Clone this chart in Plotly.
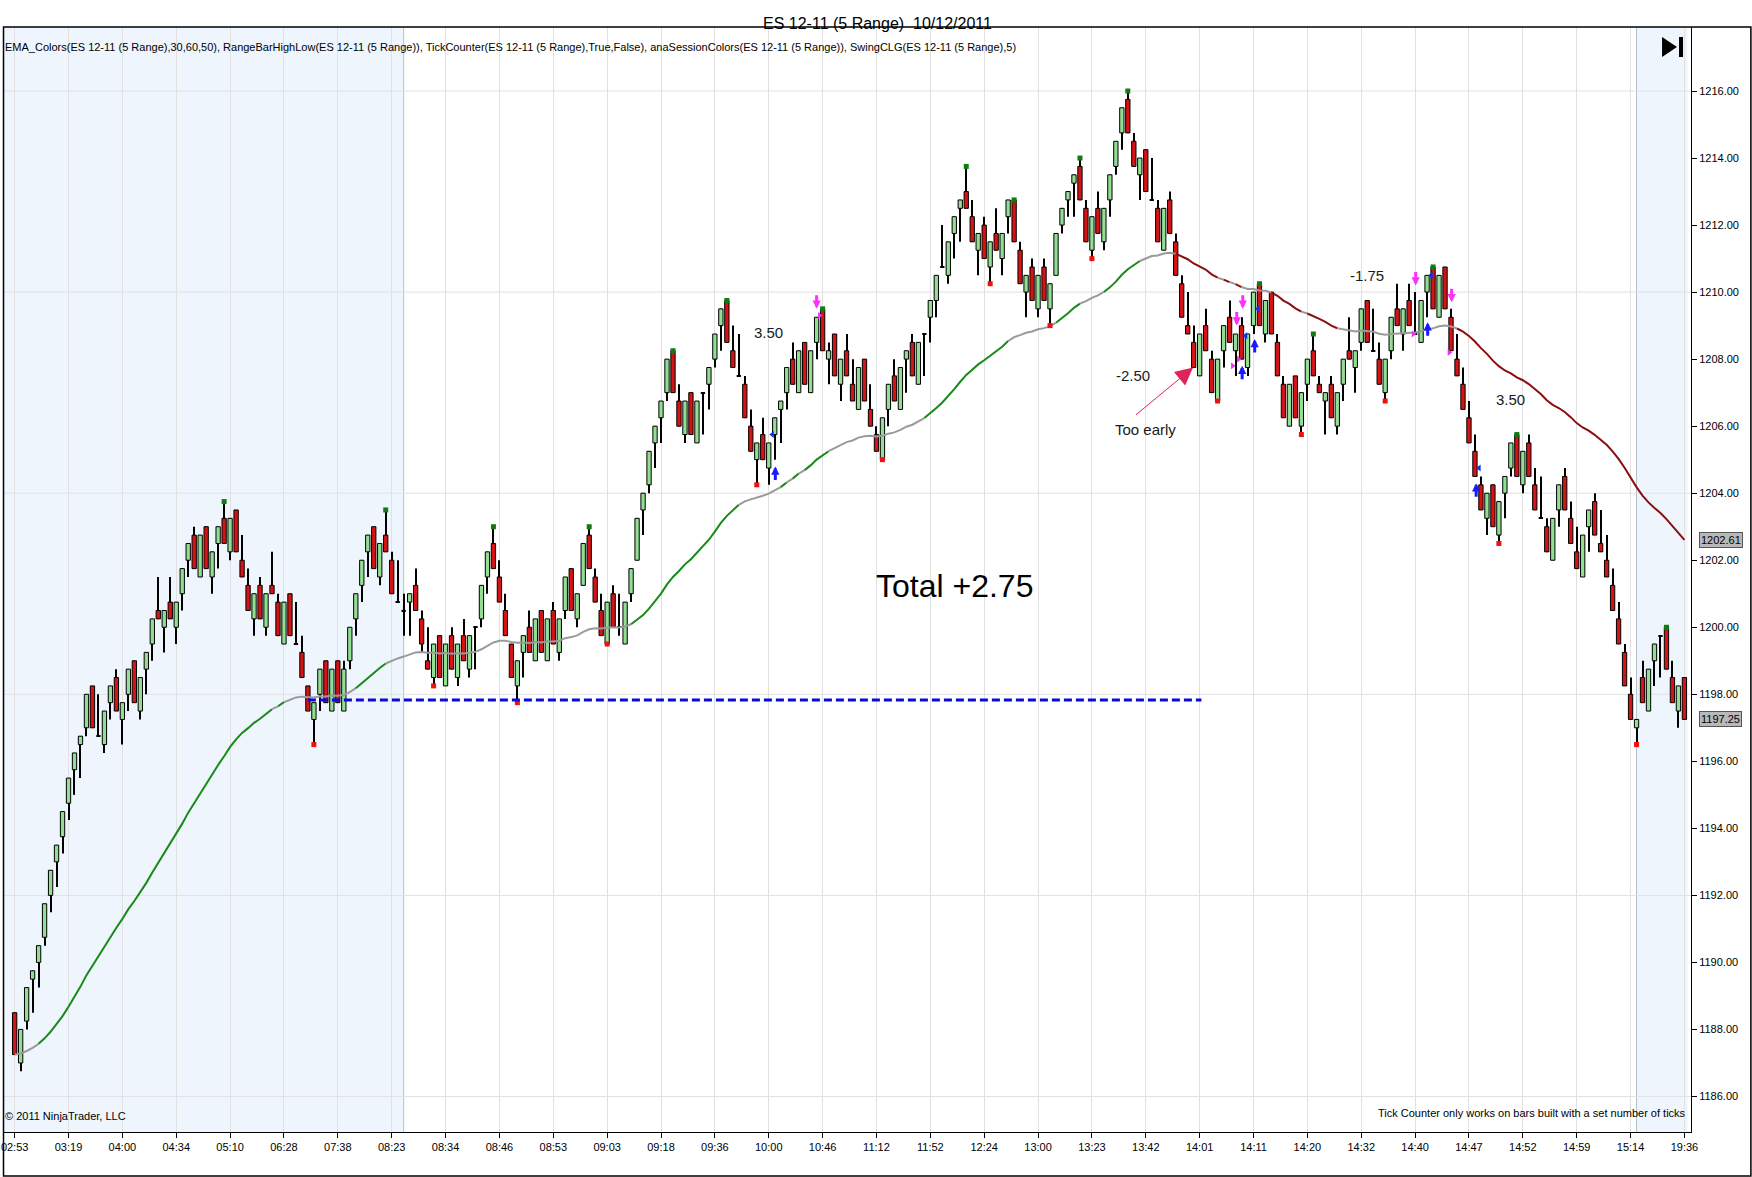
import pandas as pd
import plotly.graph_objects as go

# ---------------- data ----------------
time_labels = ["02:53", "03:19", "04:00", "04:34", "05:10", "06:28", "07:38", "08:23",
               "08:34", "08:46", "08:53", "09:03", "09:18", "09:36", "10:00", "10:46",
               "11:12", "11:52", "12:24", "13:00", "13:23", "13:42", "14:01", "14:11",
               "14:20", "14:32", "14:40", "14:47", "14:52", "14:59", "15:14", "19:36"]

open_ = [
    1188.5, 1187.0, 1188.25, 1189.5, 1190.0, 1190.75, 1192.0, 1193.0, 1193.75, 1194.75,
    1195.75, 1196.5, 1197.0, 1198.25, 1196.75, 1196.5, 1197.75, 1198.5, 1197.25, 1198.0,
    1199.0, 1197.5, 1198.75, 1199.5, 1200.5, 1200.0, 1200.75, 1200.0, 1201.0, 1202.0,
    1202.75, 1201.5, 1203.0, 1201.5, 1202.5, 1203.25, 1202.25, 1203.5, 1202.0, 1201.25,
    1200.25, 1201.25, 1200.0, 1201.25, 1200.75, 1199.5, 1201.0, 1199.5, 1199.25, 1198.25,
    1197.25, 1198.0, 1199.0, 1197.5, 1199.0, 1197.5, 1199.0, 1200.25, 1201.25, 1202.25,
    1203.0, 1201.5, 1202.75, 1202.0, 1200.75, 1200.5, 1200.75, 1201.25, 1200.25, 1199.0,
    1198.5, 1199.75, 1198.25, 1199.75, 1198.5, 1199.75, 1198.75, 1200.0, 1200.25, 1201.5,
    1202.5, 1201.5, 1200.5, 1199.5, 1198.25, 1199.25, 1200.0, 1199.0, 1200.5, 1199.0,
    1200.5, 1199.25, 1200.5, 1201.75, 1200.25, 1201.25, 1202.75, 1201.5, 1200.5, 1199.5,
    1201.0, 1200.0, 1199.5, 1201.0, 1202.0, 1203.5, 1204.25, 1205.5, 1206.25, 1207.0,
    1208.25, 1206.75, 1205.75, 1207.0, 1205.5, 1207.0, 1207.25, 1208.0, 1209.0, 1209.75,
    1208.25, 1207.5, 1207.25, 1206.0, 1205.0, 1205.75, 1204.75, 1205.75, 1206.5, 1207.0,
    1208.0, 1207.0, 1208.5, 1207.0, 1208.5, 1209.5, 1208.0, 1208.75, 1207.25, 1208.25,
    1207.25, 1206.5, 1208.0, 1206.5, 1205.75, 1205.0, 1206.5, 1207.5, 1206.5, 1208.0,
    1208.5, 1207.25, 1208.75, 1209.25, 1209.75, 1210.75, 1210.5, 1211.75, 1212.5, 1213.0,
    1212.25, 1211.25, 1212.0, 1210.75, 1211.75, 1211.0, 1212.25, 1212.75, 1211.25, 1210.0,
    1210.75, 1209.5, 1210.75, 1209.5, 1210.5, 1212.0, 1212.75, 1213.25, 1213.75, 1212.5,
    1211.25, 1212.5, 1211.5, 1212.75, 1213.75, 1214.75, 1215.75, 1214.5, 1213.5, 1214.25,
    1212.75, 1212.5, 1211.25, 1212.75, 1211.5, 1210.25, 1209.0, 1208.5, 1207.5, 1209.0,
    1208.0, 1206.75, 1208.25, 1209.25, 1208.25, 1209.0, 1207.75, 1209.0, 1210.25, 1208.75,
    1210.0, 1208.5, 1207.25, 1206.0, 1207.5, 1206.0, 1207.25, 1208.25, 1207.25, 1206.75,
    1207.25, 1206.0, 1207.25, 1208.25, 1207.75, 1208.5, 1209.75, 1208.25, 1208.0, 1207.0,
    1208.25, 1209.5, 1208.75, 1209.75, 1208.75, 1208.5, 1210.0, 1210.75, 1209.25, 1210.75,
    1209.25, 1208.0, 1207.25, 1206.25, 1205.25, 1204.25, 1203.25, 1204.25, 1202.75, 1204.0,
    1204.75, 1205.75, 1204.25, 1205.5, 1204.25, 1203.25, 1203.0, 1202.0, 1203.5, 1204.5,
    1203.25, 1202.25, 1201.5, 1203.0, 1203.75, 1202.5, 1202.0, 1201.25, 1200.25, 1199.25,
    1198.0, 1197.0, 1198.5, 1197.5, 1199.0, 1199.75, 1200.0, 1198.5, 1197.5, 1198.5,
]

high = [
    1188.5, 1188.0, 1189.25, 1189.75, 1190.5, 1191.75, 1192.75, 1193.5, 1194.5, 1195.5,
    1196.25, 1196.75, 1198.0, 1198.25, 1198.0, 1197.5, 1198.25, 1198.75, 1197.75, 1198.75,
    1199.0, 1198.5, 1199.25, 1200.25, 1201.5, 1200.5, 1201.5, 1200.75, 1201.75, 1202.5,
    1203.0, 1202.75, 1203.0, 1202.25, 1203.0, 1203.75, 1203.25, 1203.5, 1202.75, 1201.75,
    1201.0, 1201.5, 1201.0, 1202.25, 1201.0, 1200.75, 1201.0, 1200.75, 1199.75, 1198.25,
    1197.75, 1198.75, 1199.0, 1198.75, 1199.0, 1199.0, 1200.0, 1201.0, 1202.0, 1202.75,
    1203.0, 1202.5, 1203.5, 1202.25, 1202.0, 1201.0, 1201.0, 1201.75, 1200.5, 1200.0,
    1199.5, 1199.75, 1199.5, 1200.0, 1199.5, 1200.25, 1199.75, 1200.0, 1201.25, 1202.25,
    1203.0, 1202.0, 1201.0, 1199.5, 1199.0, 1199.75, 1200.5, 1200.25, 1200.5, 1200.25,
    1200.75, 1200.25, 1201.5, 1201.75, 1201.0, 1202.5, 1203.0, 1201.75, 1201.0, 1200.75,
    1201.25, 1201.0, 1200.75, 1201.75, 1203.25, 1204.0, 1205.25, 1206.0, 1206.75, 1208.0,
    1208.25, 1207.25, 1206.75, 1207.0, 1206.75, 1207.0, 1207.75, 1208.75, 1209.5, 1209.75,
    1209.0, 1208.75, 1207.5, 1206.5, 1205.5, 1206.25, 1205.5, 1206.25, 1206.75, 1207.75,
    1208.5, 1208.25, 1208.5, 1208.25, 1209.25, 1209.5, 1208.5, 1208.75, 1208.0, 1208.75,
    1208.0, 1207.75, 1208.0, 1207.25, 1206.0, 1206.25, 1207.25, 1208.0, 1207.75, 1208.25,
    1208.75, 1208.5, 1208.75, 1209.75, 1210.5, 1212.0, 1211.5, 1212.25, 1212.75, 1213.75,
    1212.75, 1211.75, 1212.25, 1211.5, 1212.5, 1211.75, 1212.75, 1212.75, 1211.5, 1210.5,
    1211.0, 1210.5, 1211.0, 1210.25, 1211.75, 1212.5, 1213.0, 1213.5, 1214.0, 1212.75,
    1212.25, 1213.0, 1212.5, 1213.5, 1214.5, 1215.5, 1216.0, 1214.75, 1214.0, 1214.25,
    1214.0, 1212.75, 1212.5, 1213.0, 1211.75, 1210.5, 1210.0, 1209.0, 1208.75, 1209.5,
    1208.25, 1208.0, 1209.0, 1209.75, 1208.75, 1209.25, 1208.75, 1210.0, 1210.25, 1209.75,
    1210.0, 1208.75, 1207.5, 1207.25, 1207.5, 1207.0, 1208.0, 1208.75, 1207.5, 1207.0,
    1207.5, 1207.0, 1208.0, 1209.25, 1208.25, 1209.5, 1209.75, 1209.5, 1208.5, 1208.0,
    1209.25, 1210.25, 1209.5, 1210.25, 1210.0, 1209.75, 1210.5, 1210.75, 1210.5, 1210.75,
    1209.5, 1208.75, 1207.75, 1206.75, 1205.75, 1204.5, 1204.0, 1204.25, 1203.75, 1204.5,
    1205.5, 1205.75, 1205.25, 1205.75, 1204.75, 1204.5, 1203.25, 1203.25, 1204.25, 1204.75,
    1203.75, 1203.0, 1202.75, 1203.5, 1204.0, 1203.5, 1202.75, 1201.75, 1200.75, 1199.5,
    1198.5, 1197.25, 1199.0, 1198.75, 1199.5, 1199.75, 1200.0, 1199.0, 1198.25, 1198.5,
]

low = [
    1187.25, 1186.75, 1188.0, 1188.5, 1189.25, 1190.5, 1191.5, 1192.25, 1193.25, 1194.25,
    1195.0, 1195.5, 1196.75, 1197.0, 1196.75, 1196.25, 1197.25, 1197.5, 1196.5, 1197.5,
    1197.75, 1197.25, 1198.0, 1199.0, 1200.25, 1199.25, 1200.25, 1199.5, 1200.5, 1201.5,
    1201.75, 1201.5, 1201.75, 1201.0, 1201.75, 1202.5, 1202.0, 1202.25, 1201.5, 1200.5,
    1199.75, 1200.25, 1199.75, 1201.0, 1199.75, 1199.5, 1199.75, 1199.5, 1198.5, 1197.5,
    1196.5, 1197.5, 1197.75, 1197.5, 1197.75, 1197.5, 1198.75, 1199.75, 1200.75, 1201.5,
    1201.75, 1201.25, 1202.25, 1201.0, 1200.75, 1199.75, 1199.75, 1200.5, 1199.25, 1198.75,
    1198.25, 1198.5, 1198.25, 1198.75, 1198.25, 1199.0, 1198.5, 1198.75, 1200.0, 1201.0,
    1201.75, 1200.75, 1199.75, 1198.5, 1197.75, 1198.5, 1199.25, 1199.0, 1199.25, 1199.0,
    1199.5, 1199.0, 1200.25, 1200.5, 1200.0, 1201.25, 1201.75, 1200.75, 1199.75, 1199.5,
    1200.0, 1199.75, 1199.5, 1200.75, 1202.0, 1202.75, 1204.0, 1204.75, 1205.5, 1206.75,
    1207.0, 1206.0, 1205.5, 1205.75, 1205.5, 1205.75, 1206.5, 1207.75, 1208.25, 1208.5,
    1207.75, 1207.5, 1206.25, 1205.25, 1204.25, 1205.0, 1204.25, 1205.0, 1205.5, 1206.5,
    1207.25, 1207.0, 1207.25, 1207.0, 1208.0, 1208.25, 1207.25, 1207.5, 1206.75, 1207.5,
    1206.75, 1206.5, 1206.75, 1206.0, 1205.25, 1205.0, 1206.0, 1206.75, 1206.5, 1207.0,
    1207.5, 1207.25, 1207.5, 1208.5, 1209.25, 1210.75, 1210.25, 1211.0, 1211.5, 1212.5,
    1211.5, 1210.5, 1211.0, 1210.25, 1211.25, 1210.5, 1211.75, 1211.5, 1210.25, 1209.25,
    1209.75, 1209.25, 1209.75, 1209.0, 1210.5, 1211.75, 1212.25, 1212.25, 1212.75, 1211.5,
    1211.0, 1211.75, 1211.25, 1212.25, 1213.5, 1214.25, 1214.75, 1213.75, 1212.75, 1213.0,
    1212.75, 1211.5, 1211.25, 1211.75, 1210.5, 1209.25, 1208.75, 1207.75, 1207.5, 1208.25,
    1207.0, 1206.75, 1207.75, 1208.5, 1207.5, 1208.0, 1207.5, 1208.75, 1209.0, 1208.5,
    1208.75, 1207.5, 1206.25, 1206.0, 1206.25, 1205.75, 1206.75, 1207.5, 1207.0, 1205.75,
    1206.25, 1205.75, 1206.75, 1208.0, 1207.0, 1208.25, 1208.5, 1208.25, 1207.25, 1206.75,
    1208.0, 1209.0, 1208.25, 1209.0, 1208.75, 1208.5, 1209.25, 1209.5, 1209.25, 1209.5,
    1208.25, 1207.5, 1206.5, 1205.5, 1204.5, 1203.5, 1202.75, 1203.0, 1202.5, 1203.25,
    1204.5, 1204.5, 1204.0, 1204.5, 1203.5, 1203.25, 1202.25, 1202.0, 1203.0, 1203.5,
    1202.5, 1201.75, 1201.5, 1202.25, 1202.75, 1202.25, 1201.5, 1200.5, 1199.5, 1198.25,
    1197.25, 1196.5, 1197.75, 1197.5, 1198.25, 1198.5, 1198.75, 1197.75, 1197.0, 1197.25,
]

close = [
    1187.25, 1188.0, 1189.25, 1189.75, 1190.5, 1191.75, 1192.75, 1193.5, 1194.5, 1195.5,
    1196.25, 1196.75, 1198.0, 1197.0, 1196.75, 1197.5, 1198.25, 1197.5, 1197.75, 1198.75,
    1197.75, 1198.5, 1199.25, 1200.25, 1200.25, 1200.5, 1200.25, 1200.75, 1201.75, 1202.5,
    1201.75, 1202.75, 1201.75, 1202.25, 1203.0, 1202.5, 1203.25, 1202.25, 1201.5, 1200.5,
    1201.0, 1200.25, 1201.0, 1201.0, 1199.75, 1200.75, 1199.75, 1199.5, 1198.5, 1197.5,
    1197.75, 1198.75, 1197.75, 1198.75, 1197.75, 1198.75, 1200.0, 1201.0, 1202.0, 1202.75,
    1201.75, 1202.5, 1202.25, 1201.0, 1200.75, 1200.5, 1201.0, 1200.5, 1199.5, 1198.75,
    1199.5, 1198.5, 1199.5, 1198.75, 1199.5, 1199.0, 1199.75, 1200.0, 1201.25, 1202.25,
    1201.75, 1200.75, 1199.75, 1198.5, 1199.0, 1199.75, 1199.25, 1200.25, 1199.25, 1200.25,
    1199.5, 1200.25, 1201.5, 1200.5, 1201.0, 1202.5, 1201.75, 1200.75, 1199.75, 1200.75,
    1200.0, 1200.0, 1200.75, 1201.75, 1203.25, 1204.0, 1205.25, 1206.0, 1206.75, 1208.0,
    1207.0, 1206.0, 1206.75, 1205.75, 1206.75, 1207.0, 1207.75, 1208.75, 1209.5, 1208.5,
    1207.75, 1207.5, 1206.25, 1205.25, 1205.5, 1205.0, 1205.5, 1206.25, 1206.75, 1207.75,
    1207.25, 1208.25, 1207.25, 1208.25, 1209.25, 1208.25, 1208.25, 1207.5, 1208.0, 1207.5,
    1206.75, 1207.75, 1206.75, 1206.0, 1205.25, 1206.25, 1207.25, 1206.75, 1207.75, 1208.25,
    1207.5, 1208.5, 1208.75, 1209.75, 1210.5, 1210.75, 1211.5, 1212.25, 1212.75, 1212.5,
    1211.5, 1211.75, 1211.0, 1211.5, 1211.25, 1211.75, 1212.75, 1211.5, 1210.25, 1210.5,
    1209.75, 1210.5, 1209.75, 1210.25, 1211.75, 1212.5, 1213.0, 1213.5, 1212.75, 1211.5,
    1212.25, 1211.75, 1212.5, 1213.5, 1214.5, 1215.5, 1214.75, 1213.75, 1214.0, 1213.0,
    1212.75, 1211.5, 1212.5, 1211.75, 1210.5, 1209.25, 1208.75, 1207.75, 1208.75, 1208.25,
    1207.0, 1208.0, 1209.0, 1208.5, 1208.75, 1208.0, 1208.75, 1210.0, 1209.0, 1209.75,
    1208.75, 1207.5, 1206.25, 1207.25, 1206.25, 1207.0, 1208.0, 1207.5, 1207.0, 1207.0,
    1206.25, 1207.0, 1208.0, 1208.0, 1208.25, 1209.5, 1208.5, 1208.25, 1207.25, 1208.0,
    1209.25, 1209.0, 1209.5, 1209.0, 1208.75, 1209.75, 1210.5, 1209.5, 1210.5, 1209.5,
    1208.25, 1207.5, 1206.5, 1205.5, 1204.5, 1203.5, 1204.0, 1203.0, 1203.75, 1204.5,
    1205.5, 1204.5, 1205.25, 1204.5, 1203.5, 1203.25, 1202.25, 1203.25, 1204.25, 1203.5,
    1202.5, 1201.75, 1202.75, 1203.5, 1202.75, 1202.25, 1201.5, 1200.5, 1199.5, 1198.25,
    1197.25, 1197.25, 1197.75, 1198.75, 1199.5, 1199.75, 1198.75, 1197.75, 1198.25, 1197.25,
]

swing_high_bars = [35, 62, 80, 96, 110, 119, 135, 159, 167, 178, 186, 208, 217, 237, 251, 276]
swing_low_bars = [50, 70, 84, 99, 124, 145, 163, 173, 180, 201, 215, 229, 248, 271]

entry_x = [127.1, 205.1, 207.2, 236.1, 244.2]
entry_y = [1204.8, 1207.8, 1208.6, 1209.1, 1204.3]
exit_x = [134.0, 204.2, 205.2, 234.1, 240.1]
exit_y = [1209.5, 1209.0, 1209.5, 1210.2, 1209.7]
entry_mark_x = [126.6, 205.7, 207.7, 236.7, 244.7]
entry_mark_y = [1205.75, 1208.7, 1209.5, 1210.5, 1204.75]
exit_mark_x = [134.5, 203.5, 204.5, 233.7, 239.7]
exit_mark_y = [1209.3, 1207.8, 1208.0, 1208.75, 1208.2]

trade_texts = ["3.50", "-2.50", "-1.75", "3.50"]
trade_x = [125.9, 186.9, 226.0, 249.9]
trade_y = [1208.8, 1207.5, 1210.5, 1206.8]

stop_level = 1197.83
ema_period = 50
y_ticks = [1186, 1188, 1190, 1192, 1194, 1196, 1198, 1200, 1202, 1204, 1206, 1208,
           1210, 1212, 1214, 1216]

assert len(open_) == len(high) == len(low) == len(close) == 280

# ---------------- figure ----------------
W, H = 1752, 1177
ML, MR, MT, MB = 1, 61, 27, 45
PW, PH = W - ML - MR, H - MT - MB


def px_x(p):
    return (p - ML) / PW


def px_y(p):
    return (H - MB - p) / PH


FONT = "Arial, 'Liberation Sans', sans-serif"
UP_FILL = "#92DE92"
DN_FILL = "#D41414"
EMA_UP, EMA_DN, EMA_FLAT = "#178A17", "#8B0E0E", "#9A9A9A"

n = len(close)
bars = list(range(n))
ema = pd.Series(close).ewm(span=ema_period, adjust=False).mean().tolist()

fig = go.Figure()

# wicks (thin bars) and bodies
fig.add_trace(go.Bar(x=bars, y=[h - l for h, l in zip(high, low)], base=low, width=0.17,
                     marker=dict(color="#000000", line=dict(width=0)),
                     hoverinfo="skip", showlegend=False))
body_x, body_b, body_h, body_c = [], [], [], []
doji_x, doji_b = [], []
for i in range(n):
    if close[i] == open_[i]:
        doji_x.append(i)
        doji_b.append(close[i] - 0.02)
    else:
        body_x.append(i)
        body_b.append(min(open_[i], close[i]))
        body_h.append(abs(close[i] - open_[i]))
        body_c.append(UP_FILL if close[i] > open_[i] else DN_FILL)
fig.add_trace(go.Bar(x=body_x, y=body_h, base=body_b, width=0.72,
                     marker=dict(color=body_c, line=dict(color="#000000", width=1)),
                     hoverinfo="skip", showlegend=False))
fig.add_trace(go.Bar(x=doji_x, y=[0.04] * len(doji_x), base=doji_b, width=0.72,
                     marker=dict(color="#000000", line=dict(width=0)),
                     hoverinfo="skip", showlegend=False))

# EMA with slope colouring
thr_up, thr_dn = 0.12, 0.07
seg_col = []
for j in range(n - 1):
    d = ema[j + 1] - ema[j]
    seg_col.append(EMA_UP if d > thr_up else (EMA_DN if d < -thr_dn else EMA_FLAT))
s = 0
for j in range(n - 1):
    if j == n - 2 or seg_col[j + 1] != seg_col[j]:
        fig.add_trace(go.Scatter(x=bars[s:j + 2], y=ema[s:j + 2], mode="lines",
                                 line=dict(color=seg_col[j], width=2),
                                 hoverinfo="skip", showlegend=False))
        s = j + 1

fig.add_trace(go.Scatter(x=swing_high_bars, y=[high[i] for i in swing_high_bars], mode="markers",
                         marker=dict(symbol="square", size=5, color="#127A12"),
                         hoverinfo="skip", showlegend=False))
fig.add_trace(go.Scatter(x=swing_low_bars, y=[low[i] for i in swing_low_bars], mode="markers",
                         marker=dict(symbol="square", size=5, color="#F01010"),
                         hoverinfo="skip", showlegend=False))
fig.add_trace(go.Scatter(x=entry_mark_x, y=entry_mark_y, mode="markers",
                         marker=dict(symbol="triangle-left", size=6, color="#1030F0"),
                         hoverinfo="skip", showlegend=False))
fig.add_trace(go.Scatter(x=exit_mark_x, y=exit_mark_y, mode="markers",
                         marker=dict(symbol="triangle-right", size=6, color="#F030F0"),
                         hoverinfo="skip", showlegend=False))

# price tag pointers (outside plot)
fig.add_trace(go.Scatter(x=[280.75, 280.75], y=[ema[-1], close[-1]], mode="markers",
                         marker=dict(symbol="triangle-left", size=11, color="#B8B8B8",
                                     line=dict(color="#555555", width=1)),
                         cliponaxis=False, hoverinfo="skip", showlegend=False))

shapes = []
shapes.append(dict(type="rect", xref="x", yref="paper", x0=-2, x1=65, y0=0, y1=1,
                   fillcolor="#EEF5FD", line=dict(width=0), layer="below"))
shapes.append(dict(type="rect", xref="x", yref="paper", x0=271, x1=279.5, y0=0, y1=1,
                   fillcolor="#EEF5FD", line=dict(width=0), layer="below"))
for xb in (65, 271):
    shapes.append(dict(type="line", xref="x", yref="paper", x0=xb, x1=xb, y0=0, y1=1,
                       line=dict(color="#B4C0CC", width=1), layer="below"))
for gv in y_ticks[::3]:
    shapes.append(dict(type="line", xref="paper", yref="y", x0=0, x1=1, y0=gv, y1=gv,
                       line=dict(color="#E1E1E1", width=1), layer="below"))
shapes.append(dict(type="line", xref="x", yref="y", x0=49, x1=198.3, y0=stop_level, y1=stop_level,
                   line=dict(color="#0A0ADC", width=3, dash="8px,4px"), layer="above"))
shapes.append(dict(type="rect", xref="paper", yref="paper", x0=px_x(0.5), x1=px_x(1751),
                   y0=px_y(1176), y1=px_y(27), line=dict(color="#000000", width=1.5)))
shapes.append(dict(type="path", xref="paper", yref="paper",
                   path="M %f,%f L %f,%f L %f,%f Z" % (px_x(1662), px_y(37), px_x(1662), px_y(57),
                                                       px_x(1677), px_y(47)),
                   fillcolor="#000000", line=dict(width=0)))
shapes.append(dict(type="rect", xref="paper", yref="paper", x0=px_x(1679), x1=px_x(1683),
                   y0=px_y(57), y1=px_y(37), fillcolor="#000000", line=dict(width=0)))

ann = []
ann.append(dict(text="ES 12-11 (5 Range)\u00a0 10/12/2011", xref="paper", yref="paper",
                x=px_x(876), y=px_y(13), showarrow=False, font=dict(size=16, color="#000000")))
ann.append(dict(text="EMA_Colors(ES 12-11 (5 Range),30,60,50), RangeBarHighLow(ES 12-11 (5 Range)), "
                     "TickCounter(ES 12-11 (5 Range),True,False), anaSessionColors(ES 12-11 (5 Range)), "
                     "SwingCLG(ES 12-11 (5 Range),5)",
                xref="paper", yref="paper", x=px_x(0), y=px_y(39), xanchor="left",
                showarrow=False, font=dict(size=11, color="#000000")))
ann.append(dict(text="\u00a9 2011 NinjaTrader, LLC", xref="paper", yref="paper", x=px_x(0),
                y=px_y(1124), xanchor="left", showarrow=False, font=dict(size=11, color="#000000")))
ann.append(dict(text="Tick Counter only works on bars built with a set number of ticks", xref="paper",
                yref="paper", x=px_x(1688), y=px_y(1121), xanchor="right", showarrow=False,
                font=dict(size=11, color="#000000")))
for t, xv, yv in zip(trade_texts, trade_x, trade_y):
    ann.append(dict(text=t, x=xv, y=yv, showarrow=False, font=dict(size=15, color="#1A1A1A")))
ann.append(dict(text="Too early", x=189.0, y=1205.9, showarrow=False, font=dict(size=15, color="#1A1A1A")))
ann.append(dict(text="Total +2.75", x=157.1, y=1201.23, showarrow=False, font=dict(size=32, color="#000000")))
ann.append(dict(text="", x=196.9, y=1207.75, ax=187.1, ay=1206.3, axref="x", ayref="y",
                showarrow=True, arrowhead=2, arrowsize=3.5, arrowwidth=1, arrowcolor="#E0245A"))
for xv, yv in zip(entry_x, entry_y):
    ann.append(dict(text="", x=xv, y=yv, ax=0, ay=15, showarrow=True, arrowhead=2, arrowsize=0.55,
                    arrowwidth=3, arrowcolor="#1A1AFF"))
for xv, yv in zip(exit_x, exit_y):
    ann.append(dict(text="", x=xv, y=yv, ax=0, ay=-15, showarrow=True, arrowhead=2, arrowsize=0.55,
                    arrowwidth=3, arrowcolor="#FF30FF"))
for v in (ema[-1], close[-1]):
    ann.append(dict(text="%.2f" % v, xref="paper", yref="y", x=1, y=v, xanchor="left", xshift=8,
                    showarrow=False, bgcolor="#B8B8B8", bordercolor="#555555", borderwidth=1,
                    borderpad=1, font=dict(size=11, color="#000000")))

fig.update_layout(
    width=W, height=H,
    margin=dict(l=ML, r=MR, t=MT, b=MB),
    paper_bgcolor="#FFFFFF", plot_bgcolor="#FFFFFF",
    font=dict(family=FONT, size=11, color="#000000"),
    showlegend=False, barmode="overlay",
    shapes=shapes, annotations=ann,
    xaxis=dict(range=[-1.78, 280.1], tickmode="array",
               tickvals=[9 * i for i in range(len(time_labels))], ticktext=time_labels,
               showgrid=True, gridcolor="#E1E1E1", gridwidth=1, zeroline=False,
               showline=True, linecolor="#000000", linewidth=1,
               ticks="outside", ticklen=5, tickcolor="#000000", ticklabeloverflow="allow",
               tickfont=dict(size=11), fixedrange=True),
    yaxis=dict(range=[1184.94, 1217.91], side="right", tickmode="array", tickvals=y_ticks,
               tickformat=".2f", showgrid=False, zeroline=False,
               showline=True, linecolor="#000000", linewidth=1,
               ticks="outside", ticklen=5, tickcolor="#000000", tickfont=dict(size=11),
               fixedrange=True),
)

fig.write_html("out.html", config={"displayModeBar": False},
               post_script="document.body.style.margin='0';")
